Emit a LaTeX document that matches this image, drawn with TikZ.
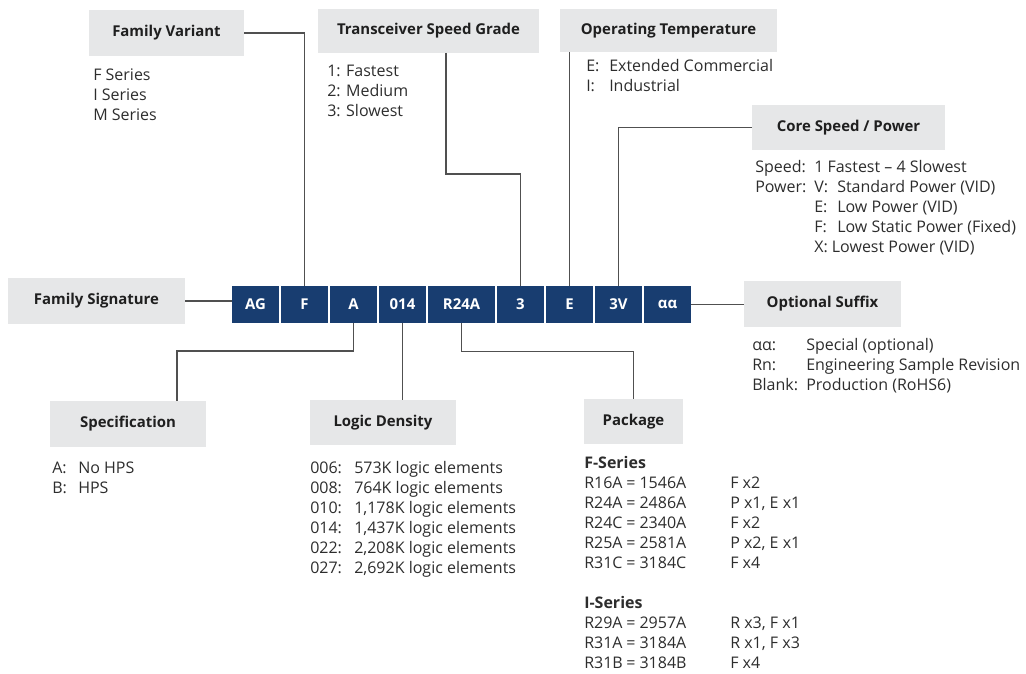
\documentclass[tikz,border=0pt]{standalone}
\usepackage{fontspec}
\setmainfont{Open Sans}
\usepackage{array}
\usetikzlibrary{positioning}

\definecolor{codeblue}{RGB}{24,61,112}
\definecolor{boxgray}{RGB}{230,231,232}
\definecolor{linegray}{RGB}{80,80,80}
\definecolor{txtgray}{RGB}{45,45,45}
\def\pxu{0.75pt}
\newcommand{\bodyfont}{\fontsize{12}{15}\selectfont}
\newcommand{\hdrfont}{\fontsize{11.2}{15}\selectfont\bfseries}

\tikzset{
  hdr/.style={fill=boxgray, text=black!88, font=\hdrfont, inner sep=0pt, outer sep=0pt},
  code/.style={fill=codeblue, text=white, font=\hdrfont, minimum width=47*\pxu, minimum height=37*\pxu, inner sep=0pt, outer sep=0pt},
  link/.style={draw=linegray, line width=0.9pt},
  list/.style={anchor=base west, inner sep=0pt, text=txtgray, font=\bodyfont}
}

\begin{document}
\begin{tikzpicture}[x=0.75pt, y=-0.75pt]
\useasboundingbox (0,0) rectangle (1026,674);

% code boxes
\node[code] (ag) at (255.5,304.5) {AG};
\node[code, right=1.5pt of ag] (f) {F};
\node[code, right=1.5pt of f] (a) {A};
\node[code, right=1.5pt of a] (c014) {014};
\node[code, right=1.5pt of c014, minimum width=67*\pxu] (r24a) {R24A};
\node[code, right=1.5pt of r24a] (c3) {3};
\node[code, right=1.5pt of c3] (e) {E};
\node[code, right=1.5pt of e] (c3v) {3V};
\node[code, right=1.5pt of c3v] (aa) {αα};

% headers
\node[hdr, minimum width=155*\pxu, minimum height=46*\pxu] (fv) at (166.5,33) {Family Variant};
\node[hdr, minimum width=221*\pxu, minimum height=44*\pxu] (tsg) at (428.5,31) {Transceiver Speed Grade};
\node[hdr, minimum width=217*\pxu, minimum height=43*\pxu] (ot) at (668.5,31) {Operating Temperature};
\node[hdr, minimum width=193*\pxu, minimum height=45*\pxu] (core) at (848.5,127.5) {Core Speed / Power};
\node[hdr, minimum width=177*\pxu, minimum height=46*\pxu] (fs) at (96.5,301) {Family Signature};
\node[hdr, minimum width=157*\pxu, minimum height=46*\pxu] (os) at (822.5,304) {Optional Suffix};
\node[hdr, minimum width=156*\pxu, minimum height=46*\pxu] (spec) at (128,424) {Specification};
\node[hdr, minimum width=146*\pxu, minimum height=45*\pxu] (ld) at (383,422.5) {Logic Density};
\node[hdr, minimum width=99*\pxu, minimum height=45*\pxu] (pkg) at (633.5,421.5) {Package};

% lists
\node[list] (fvlist) at (93,81) {\begin{tabular}[t]{@{}l@{}}F Series\\I Series\\M Series\end{tabular}};
\node[list] (tsglist) at (327,77) {\begin{tabular}[t]{@{}l@{}}1: Fastest\\2: Medium\\3: Slowest\end{tabular}};
\node[list] (otlist) at (586,72) {\begin{tabular}[t]{@{}p{17.25pt}@{}l@{}}E: & Extended Commercial\\I: & Industrial\end{tabular}};
\node[list] (corelist) at (755,173) {\begin{tabular}[t]{@{}p{44.25pt}@{}p{17.25pt}@{}l@{}}
  Speed: & \multicolumn{2}{@{}l@{}}{1 Fastest -- 4 Slowest}\\
  Power: & V: & Standard Power (VID)\\
         & E: & Low Power (VID)\\
         & F: & Low Static Power (Fixed)\\
         & \multicolumn{2}{@{}l@{}}{X: Lowest Power (VID)}
\end{tabular}};
\node[list] (oslist) at (752,350) {\begin{tabular}[t]{@{}p{40.5pt}@{}l@{}}
  αα: & Special (optional)\\
  Rn: & Engineering Sample Revision\\
  Blank: & Production (RoHS6)
\end{tabular}};
\node[list] (speclist) at (52,473) {\begin{tabular}[t]{@{}p{19.5pt}@{}l@{}}A: & No HPS\\B: & HPS\end{tabular}};
\node[list] (ldlist) at (310,473) {\begin{tabular}[t]{@{}p{33pt}@{}l@{}}
  006: & 573K logic elements\\
  008: & 764K logic elements\\
  010: & 1,178K logic elements\\
  014: & 1,437K logic elements\\
  022: & 2,208K logic elements\\
  027: & 2,692K logic elements
\end{tabular}};
\node[list] (pkglist) at (584,468) {\begin{tabular}[t]{@{}p{31.5pt}@{}p{78pt}@{}l@{}}
  \multicolumn{3}{@{}l@{}}{\bfseries F-Series}\\
  R16A & = 1546A & F x2\\
  R24A & = 2486A & P x1, E x1\\
  R24C & = 2340A & F x2\\
  R25A & = 2581A & P x2, E x1\\
  R31C & = 3184C & F x4\\[15pt]
  \multicolumn{3}{@{}l@{}}{\bfseries I-Series}\\
  R29A & = 2957A & R x3, F x1\\
  R31A & = 3184A & R x1, F x3\\
  R31B & = 3184B & F x4
\end{tabular}};

% bends
\coordinate (tsgbend) at (446,174);
\coordinate (specbend) at (177,351);

% links
\draw[link] (fv.east) -| (f.north);
\draw[link] (tsg.south -| tsgbend) -- (tsgbend) -| (c3.north);
\draw[link] (e.north) -- (e.north |- ot.south);
\draw[link] (core.west) -| (c3v.north);
\draw[link] (fs.east) -- (fs.east -| ag.west);
\draw[link] (aa.east) -- (aa.east -| os.west);
\draw[link] (a.south) |- (specbend) -- (specbend |- spec.north);
\draw[link] (c014.south) -- (c014.south |- ld.north);
\draw[link] (r24a.south) -- ++(0,28.5) -| (pkg.north);

\end{tikzpicture}
\end{document}
